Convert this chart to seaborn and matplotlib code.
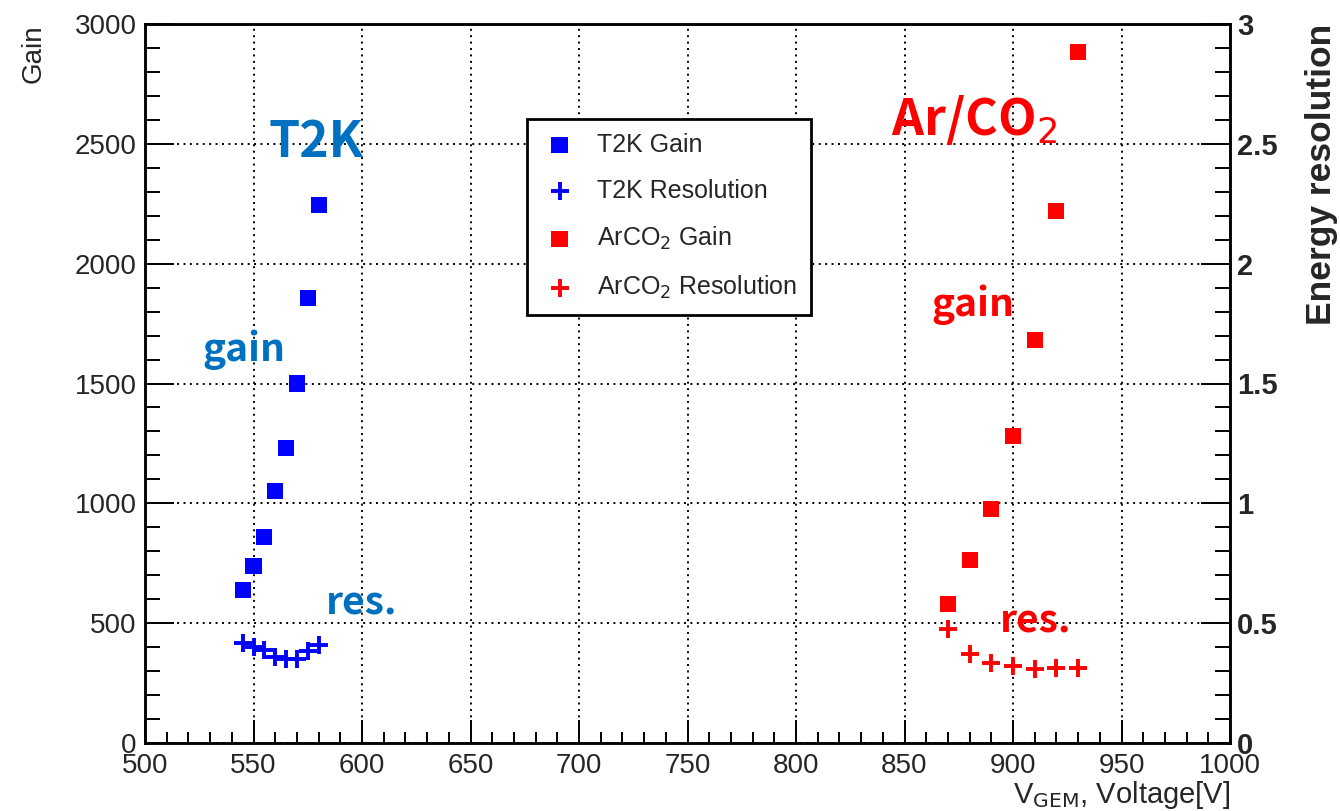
import matplotlib
matplotlib.use("Agg")
import matplotlib.pyplot as plt
import seaborn as sns
import numpy as np
import pandas as pd
from matplotlib.ticker import MultipleLocator

# ---- data ----
t2k_voltage = [545, 550, 555, 560, 565, 570, 575, 580]
t2k_gain = [638, 740, 858, 1052, 1232, 1500, 1855, 2245]
t2k_resolution = [0.418, 0.401, 0.389, 0.360, 0.351, 0.351, 0.385, 0.409]

arco2_voltage = [870, 880, 890, 900, 910, 920, 930]
arco2_gain = [581, 765, 976, 1280, 1680, 2220, 2884]
arco2_resolution = [0.475, 0.372, 0.333, 0.322, 0.308, 0.314, 0.312]

xlim = (500, 1000)
gain_lim = (0, 3000)
res_lim = (0, 3)

sns.set_theme(style="white")
plt.rcParams['font.family'] = ['Liberation Sans', 'DejaVu Sans']

fig = plt.figure(figsize=(13.4, 8.11), dpi=100)
ax = fig.add_axes([145/1340, 1-743/811, (1230-145)/1340, (743-24)/811])
ax2 = ax.twinx()

t2k_df = pd.DataFrame({"v": t2k_voltage, "gain": t2k_gain, "res": t2k_resolution})
ar_df = pd.DataFrame({"v": arco2_voltage, "gain": arco2_gain, "res": arco2_resolution})

sq = 135
cr = 160
sns.scatterplot(data=t2k_df, x="v", y="gain", marker="s", color="#0000ff", s=sq,
                edgecolor="none", ax=ax, label="T2K Gain", legend=False, zorder=3)
sns.scatterplot(data=ar_df, x="v", y="gain", marker="s", color="#ff0000", s=sq,
                edgecolor="none", ax=ax, label="ArCO$_2$ Gain", legend=False, zorder=3)
sns.scatterplot(data=t2k_df, x="v", y="res", marker="+", color="#0000ff", s=cr,
                linewidth=2.8, ax=ax2, label="T2K Resolution", legend=False, zorder=3)
sns.scatterplot(data=ar_df, x="v", y="res", marker="+", color="#ff0000", s=cr,
                linewidth=2.8, ax=ax2, label="ArCO$_2$ Resolution", legend=False, zorder=3)

ax.set_xlim(*xlim)
ax.set_ylim(*gain_lim)
ax2.set_ylim(*res_lim)

# ticks
ax.xaxis.set_major_locator(MultipleLocator(50))
ax.xaxis.set_minor_locator(MultipleLocator(10))
ax.yaxis.set_major_locator(MultipleLocator(500))
ax.yaxis.set_minor_locator(MultipleLocator(100))
ax2.yaxis.set_major_locator(MultipleLocator(0.5))
ax2.yaxis.set_minor_locator(MultipleLocator(0.1))

ax.tick_params(axis='x', which='major', direction='in', length=16.5, width=1.4,
               labelsize=20, pad=7, color='black', bottom=True, top=False)
ax.tick_params(axis='x', which='minor', direction='in', length=8, width=1.4,
               bottom=True, top=False, color='black')
ax.tick_params(axis='y', which='major', direction='in', length=21, width=1.4,
               labelsize=20, pad=6, color='black', left=True, right=False)
ax.tick_params(axis='y', which='minor', direction='in', length=10.5, width=1.4,
               left=True, right=False, color='black')
ax2.tick_params(axis='y', which='major', direction='in', length=21, width=1.4,
                labelsize=21, pad=5, color='black', right=True, left=False)
ax2.tick_params(axis='y', which='minor', direction='in', length=10.5, width=1.4,
                right=True, left=False, color='black')
ax.set_xticks(np.arange(500, 1001, 50))
ax.set_xticklabels([str(v) for v in range(500, 1001, 50)])
ax.set_yticks(np.arange(0, 3001, 500))
ax.set_yticklabels([str(v) for v in range(0, 3001, 500)])
ax2.set_yticks(np.arange(0, 3.01, 0.5))
ax2.set_yticklabels(["0", "0.5", "1", "1.5", "2", "2.5", "3"], fontweight='bold')

for a in (ax, ax2):
    for s in a.spines.values():
        s.set_color('black')
        s.set_linewidth(1.8)

# grid
ax.grid(True, which='major', color='black', linestyle=(0, (1, 2.3)), linewidth=1.4)
ax.set_axisbelow(True)

# labels
ax.set_xlabel("V$_{\\rm GEM}$, Voltage[V]", fontsize=21, loc='right', labelpad=0)
ax.set_ylabel("Gain", fontsize=20, loc='top', labelpad=20)
ax2.set_ylabel("Energy resolution", fontsize=25.5, fontweight='bold', loc='top',
               labelpad=20)

# annotations
blue_txt = "#0070c0"
red_txt = "#ff0000"
afont = ['Noto Sans CJK JP', 'DejaVu Sans']
ax.text(579, 2505, "T2K", color=blue_txt, fontsize=36, fontweight='bold',
        ha='center', va='center', family=afont)
ax.text(545.5, 1640, "gain", color=blue_txt, fontsize=28, fontweight='bold',
        ha='center', va='center', family=afont)
ax.text(600, 585, "res.", color=blue_txt, fontsize=28, fontweight='bold',
        ha='center', va='center', family=afont)
ax.text(882, 2600, "Ar/CO$_2$", color=red_txt, fontsize=36, fontweight='bold',
        ha='center', va='center', family=afont)
ax.text(881.5, 1830, "gain", color=red_txt, fontsize=28, fontweight='bold',
        ha='center', va='center', family=afont)
ax.text(910.5, 510, "res.", color=red_txt, fontsize=28, fontweight='bold',
        ha='center', va='center', family=afont)

# legend
h1, l1 = ax.get_legend_handles_labels()
h2, l2 = ax2.get_legend_handles_labels()
order = [h1[0], h2[0], h1[1], h2[1]]
labels = [l1[0], l2[0], l1[1], l2[1]]
leg = fig.legend(order, labels, loc='upper left',
                 bbox_to_anchor=(527/1340, 1-119/811), bbox_transform=fig.transFigure,
                 fontsize=18, frameon=True, fancybox=False, framealpha=1,
                 edgecolor='black', labelspacing=0.88, handletextpad=0.75,
                 borderpad=0.55, borderaxespad=0, handlelength=1.5)
leg.get_frame().set_linewidth(2)

fig.savefig("out.png", dpi=100)
